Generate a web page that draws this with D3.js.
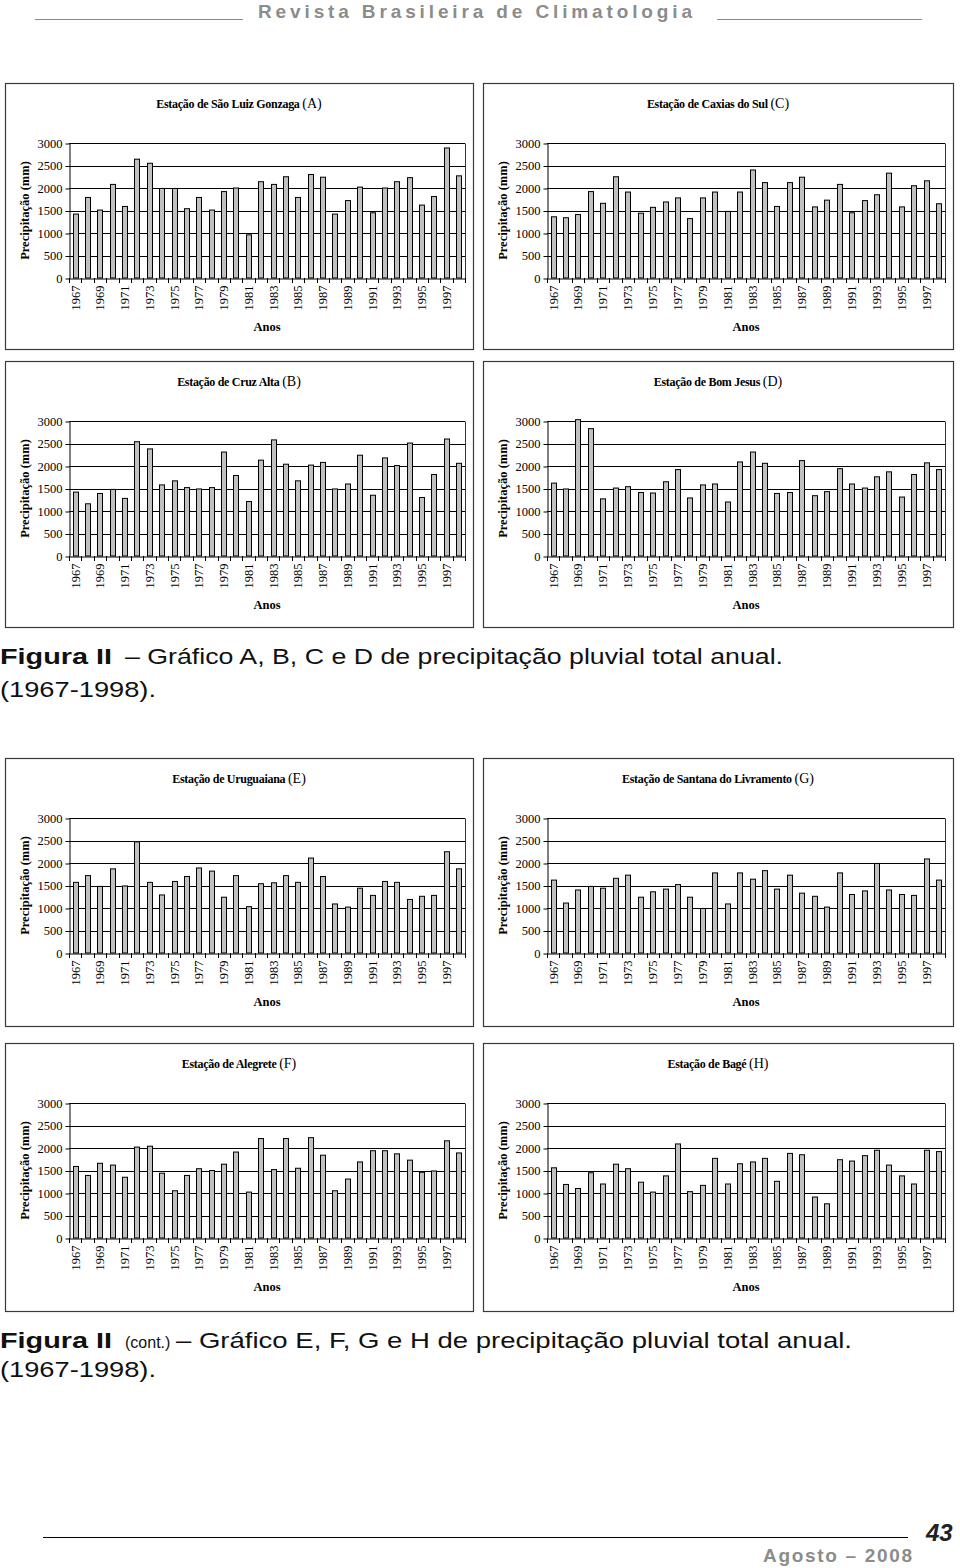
<!DOCTYPE html>
<html>
<head>
<meta charset="utf-8">
<script src="https://cdn.jsdelivr.net/npm/d3@7"></script>
<style>
html,body{margin:0;padding:0;background:#fff;}
svg{display:block;}
</style>
</head>
<body>
<svg id="page" width="960" height="1568"></svg>
<script>
// ---------------- DATA ----------------
const years = [1967,1968,1969,1970,1971,1972,1973,1974,1975,1976,1977,1978,1979,1980,1981,1982,
               1983,1984,1985,1986,1987,1988,1989,1990,1991,1992,1993,1994,1995,1996,1997,1998];
const xTickYears = [1967,1969,1971,1973,1975,1977,1979,1981,1983,1985,1987,1989,1991,1993,1995,1997];
const yTicks = [0,500,1000,1500,2000,2500,3000];

const saoLuizGonzaga = [1420,1790,1510,2080,1590,2640,2550,1990,1990,1540,1790,1510,1920,2000,960,2140,
                        2080,2250,1790,2300,2240,1420,1720,2020,1450,2000,2140,2230,1620,1810,2890,2270];
const caxiasDoSul    = [1360,1340,1410,1920,1660,2250,1910,1440,1570,1690,1780,1320,1780,1910,1480,1910,
                        2400,2120,1590,2120,2240,1580,1730,2080,1450,1720,1850,2330,1580,2050,2160,1650];
const cruzAlta       = [1420,1160,1390,1480,1280,2540,2380,1580,1670,1520,1490,1520,2310,1790,1210,2130,
                        2580,2040,1670,2020,2080,1490,1600,2240,1350,2180,2010,2510,1300,1810,2600,2060];
const bomJesus       = [1620,1490,3030,2830,1270,1510,1540,1410,1400,1650,1920,1290,1580,1600,1200,2090,
                        2310,2060,1390,1410,2120,1340,1430,1940,1600,1510,1760,1870,1310,1810,2070,1920];
const uruguaiana     = [1570,1720,1480,1870,1490,2470,1570,1290,1590,1700,1890,1820,1240,1720,1030,1540,
                        1560,1720,1570,2110,1700,1090,1020,1440,1280,1590,1570,1190,1260,1280,2250,1870];
const santanaLivramento = [1620,1110,1400,1480,1440,1660,1730,1240,1360,1420,1520,1240,990,1780,1090,1780,
                        1640,1830,1420,1730,1330,1260,1020,1780,1300,1380,1990,1400,1300,1280,2090,1620];
const alegrete       = [1590,1390,1660,1620,1350,2020,2040,1440,1050,1390,1540,1500,1640,1910,1020,2210,
                        1520,2210,1550,2230,1840,1050,1310,1690,1940,1940,1870,1730,1460,1490,2160,1890];
const bage           = [1560,1190,1100,1450,1200,1640,1540,1240,1020,1380,2090,1030,1170,1770,1200,1650,
                        1690,1770,1260,1880,1850,910,760,1740,1710,1830,1950,1620,1380,1200,1950,1920];

const panelTitles = ["Estação de São Luiz Gonzaga","Estação de Caxias do Sul","Estação de Cruz Alta","Estação de Bom Jesus",
                     "Estação de Uruguaiana","Estação de Santana do Livramento","Estação de Alegrete","Estação de Bagé"];
const panelLetters = ["(A)","(C)","(B)","(D)","(E)","(G)","(F)","(H)"];
const panelSeries = [saoLuizGonzaga, caxiasDoSul, cruzAlta, bomJesus, uruguaiana, santanaLivramento, alegrete, bage];

// ---------------- LAYOUT ----------------
const boxes = [
  {x:5,   y:83,   w:468, h:266},
  {x:483, y:83,   w:470, h:266},
  {x:5,   y:361,  w:468, h:266},
  {x:483, y:361,  w:470, h:266},
  {x:5,   y:758,  w:468, h:268},
  {x:483, y:758,  w:470, h:268},
  {x:5,   y:1043, w:468, h:268},
  {x:483, y:1043, w:470, h:268}
];

const svg = d3.select("#page");
const SERIF = "'Liberation Serif','DejaVu Serif',serif";
const SANS = "'Liberation Sans Narrow','Liberation Sans',Arial,sans-serif";

// ---------------- HEADER ----------------
svg.append("line").attr("x1",35).attr("x2",243).attr("y1",19.5).attr("y2",19.5).attr("stroke","#888").attr("stroke-width",1.2);
svg.append("line").attr("x1",717).attr("x2",922).attr("y1",19.5).attr("y2",19.5).attr("stroke","#888").attr("stroke-width",1.2);
svg.append("text").attr("x",258).attr("y",18)
  .attr("font-family","'Liberation Sans',Arial,sans-serif").attr("font-weight","bold").attr("font-size",19)
  .attr("fill","#8c8c8c").attr("textLength",434).attr("lengthAdjust","spacing")
  .text("Revista Brasileira de Climatologia");

// ---------------- PANELS ----------------
panelSeries.forEach((vals, i) => {
  const b = boxes[i];
  const g = svg.append("g");
  g.append("rect").attr("x",b.x+0.5).attr("y",b.y+0.5).attr("width",b.w).attr("height",b.h)
    .attr("fill","#fff").attr("stroke","#3a3a3a").attr("stroke-width",1.2);

  const left = b.x + 64, right = b.x + b.w - 8;
  const top = b.y + 60, bottom = top + 135;

  const x = d3.scaleBand().domain(years).range([left, right]).paddingInner(0.58).paddingOuter(0.29);
  const y = d3.scaleLinear().domain([0,3000]).range([bottom, top]);

  // gridlines
  g.append("g").selectAll("line").data(yTicks.filter(t => t > 0)).join("line")
    .attr("x1",left).attr("x2",right)
    .attr("y1",d => Math.round(y(d))+0.5).attr("y2",d => Math.round(y(d))+0.5)
    .attr("stroke","#000").attr("stroke-width",1);
  // right frame
  g.append("line").attr("x1",right+0.5).attr("x2",right+0.5).attr("y1",Math.round(top)+0.5).attr("y2",bottom)
    .attr("stroke","#333").attr("stroke-width",1);

  // bars
  g.append("g").selectAll("rect").data(vals).join("rect")
    .attr("x",(d,j) => Math.round(x(years[j]))+0.5)
    .attr("y",d => y(d))
    .attr("width",Math.round(x.bandwidth()))
    .attr("height",d => bottom - y(d))
    .attr("fill","#c0c0c0").attr("stroke","#000").attr("stroke-width",1);

  // y axis
  const ya = g.append("g").attr("transform",`translate(${left+0.5},0)`)
    .call(d3.axisLeft(y).tickValues(yTicks).tickFormat(d3.format("d")).tickSize(4).tickPadding(3).tickSizeOuter(0));
  ya.select(".domain").attr("stroke","#000");
  ya.selectAll(".tick line").attr("stroke","#000").attr("transform","translate(0,0.5)");
  ya.selectAll(".tick text").attr("font-family",SERIF).attr("font-size",12.5).attr("fill","#000");

  // x axis
  const xa = g.append("g").attr("transform",`translate(0,${Math.round(bottom)+0.5})`)
    .call(d3.axisBottom(x).tickValues(xTickYears).tickSize(0).tickSizeOuter(0));
  xa.select(".domain").attr("stroke","#000");
  xa.selectAll(".tick text")
    .attr("font-family",SERIF).attr("font-size",12.5).attr("fill","#000")
    .attr("text-anchor","end").attr("transform","rotate(-90)")
    .attr("x",-7).attr("y",0).attr("dy","0.35em");
  // category boundary tick marks
  g.append("g").selectAll("line").data(years.concat([null])).join("line")
    .attr("x1",(d,j) => Math.round(left + j*x.step())+0.5)
    .attr("x2",(d,j) => Math.round(left + j*x.step())+0.5)
    .attr("y1",Math.round(bottom)).attr("y2",Math.round(bottom)+5)
    .attr("stroke","#000").attr("stroke-width",1);

  // title
  const t = g.append("text").attr("x",b.x + b.w/2).attr("y",b.y + 25)
    .attr("text-anchor","middle").attr("font-family",SERIF).attr("fill","#000");
  t.append("tspan").attr("font-weight","bold").attr("font-size",12).attr("letter-spacing",-0.3).text(panelTitles[i] + " ");
  t.append("tspan").attr("font-size",14).text(panelLetters[i]);

  // y label
  g.append("text").attr("transform",`translate(${b.x+24},${(top+bottom)/2}) rotate(-90)`)
    .attr("text-anchor","middle").attr("font-family",SERIF).attr("font-weight","bold").attr("font-size",12.5)
    .attr("fill","#000").text("Precipitação (mm)");

  // x label
  g.append("text").attr("x",(left+right)/2).attr("y",b.y + 248)
    .attr("text-anchor","middle").attr("font-family",SERIF).attr("font-weight","bold").attr("font-size",12.5)
    .attr("fill","#000").text("Anos");
});

// ---------------- CAPTIONS ----------------
function caption(y1, y2, contTxt, rest, restX, restEnd) {
  svg.append("text").attr("x",0).attr("y",y1).attr("font-family",SANS).attr("font-weight","bold")
    .attr("font-size",22).attr("fill","#111").attr("textLength",112).attr("lengthAdjust","spacingAndGlyphs").text("Figura II");
  if (contTxt) {
    svg.append("text").attr("x",125).attr("y",y1).attr("font-family",SANS)
      .attr("font-size",16).attr("fill","#111").text(contTxt);
  }
  svg.append("text").attr("x",restX).attr("y",y1).attr("font-family",SANS)
    .attr("font-size",22).attr("fill","#111").attr("textLength",restEnd-restX).attr("lengthAdjust","spacingAndGlyphs").text(rest);
  svg.append("text").attr("x",0).attr("y",y2).attr("font-family",SANS)
    .attr("font-size",22).attr("fill","#111").attr("textLength",156).attr("lengthAdjust","spacingAndGlyphs").text("(1967-1998).");
}
caption(664, 697, null, "– Gráfico A, B, C e D de precipitação pluvial total anual.", 125, 783);
caption(1348, 1377, "(cont.)", "– Gráfico E, F, G e H de precipitação pluvial total anual.", 176, 852);

// ---------------- FOOTER ----------------
svg.append("line").attr("x1",43).attr("x2",908).attr("y1",1537.5).attr("y2",1537.5).attr("stroke","#000").attr("stroke-width",1.2);
svg.append("text").attr("x",926).attr("y",1541).attr("font-family","'Liberation Sans',Arial,sans-serif")
  .attr("font-weight","bold").attr("font-style","italic").attr("font-size",24).attr("fill","#222").text("43");
svg.append("text").attr("x",763).attr("y",1562).attr("font-family","'Liberation Sans',Arial,sans-serif")
  .attr("font-weight","bold").attr("font-size",19).attr("fill","#8c8c8c")
  .attr("textLength",149).attr("lengthAdjust","spacing").text("Agosto – 2008");
</script>
</body>
</html>
